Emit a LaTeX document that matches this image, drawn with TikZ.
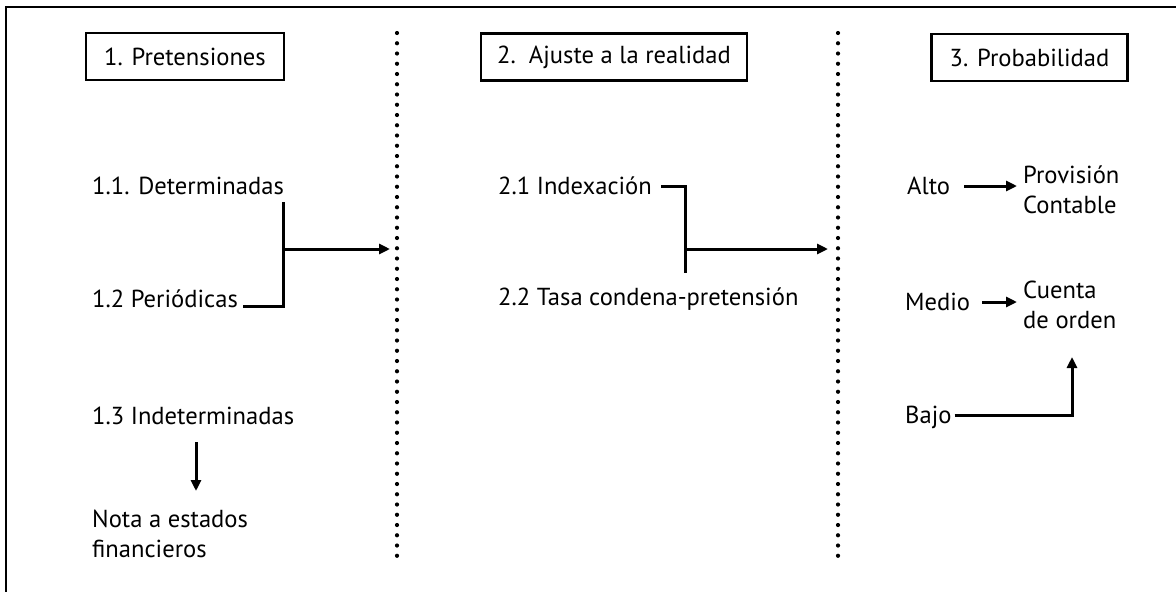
\documentclass[tikz,border=0pt]{standalone}
\usepackage{fontspec}
\setmainfont{PT Sans}
\usetikzlibrary{arrows.meta}
\begin{document}
\begin{tikzpicture}[x=1pt,y=-1pt,
  txt/.style={anchor=west,inner sep=0pt,font=\fontsize{24.6}{30}\selectfont,align=left},
  hdr/.style={draw,line width=2.8pt,inner sep=0pt,font=\fontsize{24.6}{30}\selectfont},
  conn/.style={line width=3pt},
  arr/.style={line width=3pt,-{Triangle[length=11pt,width=10pt]}},
  dots/.style={line width=4.2pt,line cap=round,dash pattern=on 0pt off 10.25pt}]
\useasboundingbox (0,0) rectangle (1176,592);
% frame (left and top edges)
\draw[line width=2.8pt] (6,592) -- (6,7) -- (1176,7);
% column separators
\coordinate (s1t) at (397,33); \coordinate (s1b) at (397,566);
\coordinate (s2t) at (838,33); \coordinate (s2b) at (838,566);
\draw[dots] (s1t) -- (s1b);
\draw[dots] (s2t) -- (s2b);
% headers
\node[hdr,minimum width=198pt,minimum height=47pt] (h1) at (185,56.5) {1. Pretensiones};
\node[hdr,minimum width=266pt,minimum height=47pt] (h2) at (614,57) {2.\ \ Ajuste a la realidad};
\node[hdr,minimum width=196pt,minimum height=47pt] (h3) at (1029.5,57.5) {3. Probabilidad};
% column 1
\node[txt] (c11) at (92,186) {1.1. Determinadas};
\node[txt] (c12) at (92,299) {1.2 Periódicas};
\node[txt] (c13) at (92,416) {1.3 Indeterminadas};
\node[txt] (nota) at (92,534) {Nota a estados\\financieros};
\coordinate (b1t) at (283,202);
\coordinate (b1b) at (283,306);
\coordinate (b1m) at (283,249);
\coordinate (a1e) at (390,249);
\draw[conn] ([xshift=5pt]c12.east |- b1b) -- (b1b) -- (b1t);
\draw[arr] (b1m) -- (a1e);
\coordinate (d13s) at (196,442);
\coordinate (d13e) at (196,491);
\draw[arr] (d13s) -- (d13e);
% column 2
\node[txt] (c21) at (498,186) {2.1 Indexación};
\node[txt] (c22) at (498,299) {2.2 Tasa condena-pretensión};
\coordinate (b2t) at (685,186);
\coordinate (b2b) at (685,273);
\coordinate (b2m) at (685,249);
\coordinate (a2e) at (828,249);
\draw[conn] ([xshift=9pt]c21.east |- b2t) -- (b2t) -- (b2b);
\draw[arr] (b2m) -- (a2e);
% column 3
\node[txt] (alto) at (907,186) {Alto};
\node[txt] (medio) at (905,302) {Medio};
\node[txt] (bajo) at (905,417) {Bajo};
\node[txt] (prov) at (1023,190) {Provisión\\Contable};
\node[txt] (cuen) at (1023,305) {Cuenta\\de orden};
\draw[arr] ([xshift=14pt]alto.east) -- ([xshift=-6pt]prov.west |- alto);
\draw[arr] ([xshift=12pt]medio.east) -- ([xshift=-6pt]cuen.west |- medio);
\coordinate (bj) at (1072,415);
\draw[arr] ([xshift=3pt]bajo.east |- bj) -- (bj) -- (1072,357);
\end{tikzpicture}
\end{document}
